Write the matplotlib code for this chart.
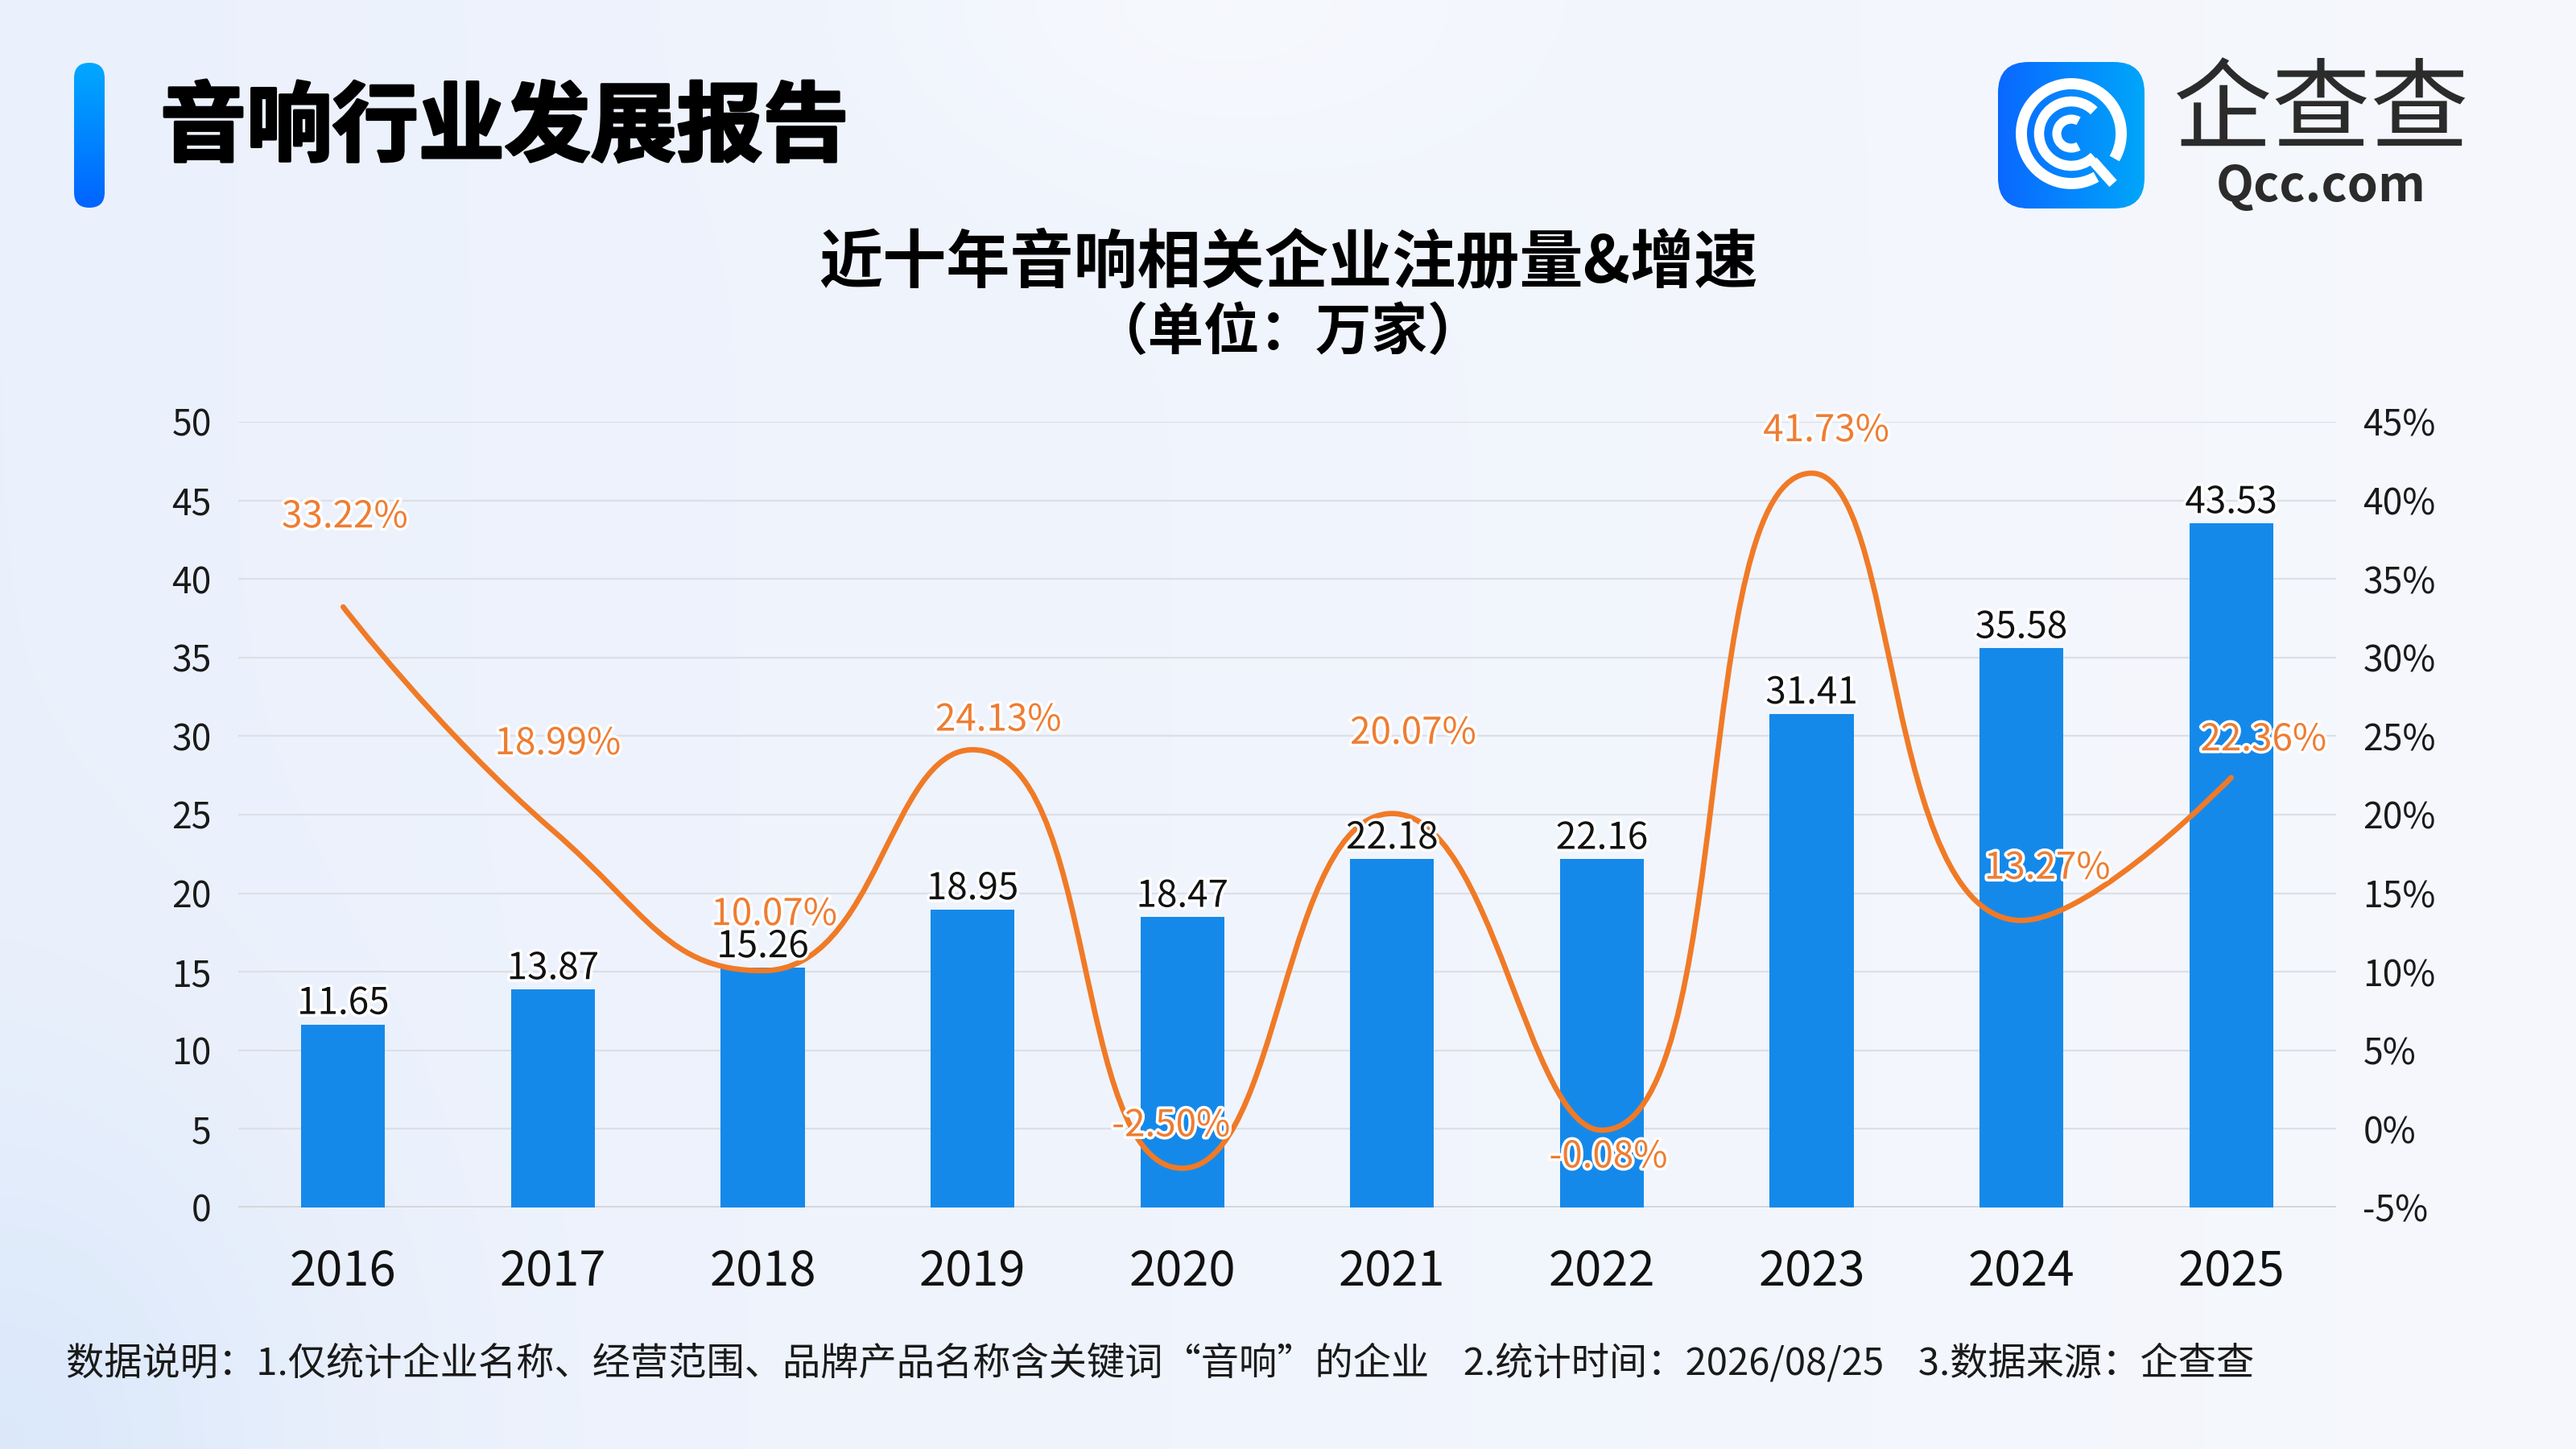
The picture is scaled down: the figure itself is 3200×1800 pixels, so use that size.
import numpy as np
import matplotlib
matplotlib.use("Agg")
import matplotlib.pyplot as plt
from matplotlib.patches import FancyBboxPatch, Arc, PathPatch
from matplotlib.path import Path
import matplotlib.patheffects as pe
from matplotlib.colors import LinearSegmentedColormap

plt.rcParams['font.family'] = ['Noto Sans CJK SC', 'DejaVu Sans']

# ---------------- data ----------------
years = ["2016", "2017", "2018", "2019", "2020", "2021", "2022", "2023", "2024", "2025"]
registrations = [11.65, 13.87, 15.26, 18.95, 18.47, 22.18, 22.16, 31.41, 35.58, 43.53]
growth_pct = [33.22, 18.99, 10.07, 24.13, -2.50, 20.07, -0.08, 41.73, 13.27, 22.36]
left_ticks = [0, 5, 10, 15, 20, 25, 30, 35, 40, 45, 50]
right_ticks = [-5, 0, 5, 10, 15, 20, 25, 30, 35, 40, 45]

title_text = "音响行业发展报告"
chart_title = "近十年音响相关企业注册量&增速"
chart_unit = "（单位：万家）"
footnote = "数据说明：1.仅统计企业名称、经营范围、品牌产品名称含关键词“音响”的企业    2.统计时间：2026/08/25    3.数据来源：企查查"
logo_cn = "企查查"
logo_en = "Qcc.com"

# label layout offsets (pixels) for the growth labels
pct_dx = [2, 6, 14, 32, -14, 26, 8, 18, 32, 40]
pct_dy = [112, 108, 70, 37, 53, 100, -33, 53, 65, 47]

W, H = 3200, 1800
fig = plt.figure(figsize=(32, 18), dpi=100)

# ---------------- background ----------------
axbg = fig.add_axes([0, 0, 1, 1], zorder=-10)
axbg.set_xlim(0, W)
axbg.set_ylim(H, 0)
axbg.axis('off')
gx = np.linspace(0, 1, 320)
gy = np.linspace(0, 1, 180)
GX, GY = np.meshgrid(gx, gy)
left_c = np.array([235, 241, 252]) / 255
right_c = np.array([246, 248, 253]) / 255
img = left_c[None, None, :] * (1 - GX[..., None]) + right_c[None, None, :] * GX[..., None]
blob = np.exp(-(((GX - 0.47) / 0.12) ** 2 + ((GY - 0.0) / 0.12) ** 2))
img = img + (np.array([0.98, 0.985, 1.0]) - img) * blob[..., None] * 0.6
blob2 = np.exp(-(((GX - 0.0) / 0.12) ** 2 + ((GY - 1.0) / 0.25) ** 2))
img = img + (np.array([0.84, 0.9, 0.98]) - img) * blob2[..., None] * 0.7
axbg.imshow(np.clip(img, 0, 1), extent=(0, W, H, 0), aspect='auto', zorder=0, interpolation='bicubic')

# title accent bar (vertical gradient)
bar_patch = FancyBboxPatch((92, 78), 38, 180, boxstyle="round,pad=0,rounding_size=19",
                           transform=axbg.transData, facecolor='none', edgecolor='none')
axbg.add_patch(bar_patch)
grad_v = np.linspace(0, 1, 100)[:, None]
cmap_v = LinearSegmentedColormap.from_list("v", ["#00A8FF", "#0064FF"])
im1 = axbg.imshow(grad_v, extent=(92, 130, 258, 78), cmap=cmap_v, aspect='auto', zorder=2)
im1.set_clip_path(bar_patch)

axbg.text(199, 160, title_text, fontsize=77, fontweight='heavy', color='#000000',
          ha='left', va='center', zorder=3,
          path_effects=[pe.withStroke(linewidth=2.5, foreground='#000000')])

# logo
logo_patch = FancyBboxPatch((2482, 77), 182, 182, boxstyle="round,pad=0,rounding_size=38",
                            transform=axbg.transData, facecolor='none', edgecolor='none')
axbg.add_patch(logo_patch)
grad_h = np.linspace(0, 1, 100)[None, :]
cmap_h = LinearSegmentedColormap.from_list("h", ["#0A68FF", "#00A6FA"])
im2 = axbg.imshow(grad_h, extent=(2482, 2664, 259, 77), cmap=cmap_h, aspect='auto', zorder=2)
im2.set_clip_path(logo_patch)
cx, cy = 2573, 166
axbg.add_patch(Arc((cx, cy), 124, 124, theta1=-300, theta2=30, lw=10, color='white', zorder=3, capstyle='butt'))
axbg.add_patch(Arc((cx, cy), 80, 80, theta1=-315, theta2=-45, lw=9, color='white', zorder=3))
axbg.add_patch(Arc((cx, cy), 36, 36, theta1=-300, theta2=-60, lw=8, color='white', zorder=3))
axbg.plot([2600, 2625], [200, 228], color='white', lw=9, solid_capstyle='butt', zorder=3)
axbg.text(2883, 141, logo_cn, fontsize=88, color='#2B2B2B', ha='center', va='center', zorder=3)
axbg.text(2883, 232, logo_en, fontsize=44, color='#2B2B2B', ha='center', va='center',
          zorder=3, fontweight='bold')

# chart titles
axbg.text(1600, 327, chart_title, fontsize=57, fontweight='bold', color='#000000',
          ha='center', va='center', zorder=3)
axbg.text(1600, 414, chart_unit, fontsize=50, fontweight='bold', color='#000000',
          ha='center', va='center', zorder=3)

# footnote
axbg.text(82, 1694, footnote, fontsize=34, color='#1A1A1A', ha='left', va='center', zorder=3)

# ---------------- main chart ----------------
L, R, T, B = 296, 2902, 524, 1500
pos = [L / W, 1 - B / H, (R - L) / W, (B - T) / H]
ax = fig.add_axes(pos)
ax.patch.set_alpha(0)
x = np.arange(len(years))
ax.set_xlim(-0.5, len(years) - 0.5)
ax.set_ylim(0, 50)
ax.set_yticks(left_ticks)
ax.set_yticklabels([str(t) for t in left_ticks])
ax.set_xticks(x)
ax.set_xticklabels(years)
for s in ax.spines.values():
    s.set_visible(False)
ax.tick_params(axis='both', length=0)
ax.tick_params(axis='y', labelsize=32, pad=24, labelcolor='#1A1A1A')
ax.tick_params(axis='x', labelsize=43, pad=36, labelcolor='#111111')
ax.set_axisbelow(True)
ax.yaxis.grid(True, color='#DCDFE5', lw=1.6)
ax.axhline(0, color='#D5D6DA', lw=3.5, zorder=1)

bars = ax.bar(x, registrations, width=0.4, color='#1589EA', zorder=2)

ax2 = ax.twinx()
ax2.set_ylim(-5, 45)
ax2.set_yticks(right_ticks)
ax2.set_yticklabels([f"{t}%" for t in right_ticks])
for s in ax2.spines.values():
    s.set_visible(False)
ax2.tick_params(axis='y', length=0, labelsize=32, pad=24, labelcolor='#1A1A1A')

# smooth line (ECharts-style bezier smoothing) computed in display space
pts = ax2.transData.transform(np.column_stack([x, growth_pct]))
smooth = 0.5
n = len(pts)
verts = [tuple(pts[0])]
codes = [Path.MOVETO]
cp0 = pts[0].copy()
for i in range(1, n):
    px_, py_ = pts[i - 1]
    xx, yy = pts[i]
    if i == n - 1:
        cp1 = np.array([xx, yy])
        ncp0 = None
    else:
        nx_, ny_ = pts[i + 1]
        vx, vy = nx_ - px_, ny_ - py_
        lp = np.hypot(xx - px_, yy - py_)
        ln = np.hypot(nx_ - xx, ny_ - yy)
        ratio = ln / (ln + lp)
        ncx = xx + vx * smooth * ratio
        ncy = yy + vy * smooth * ratio
        ncx = min(ncx, max(nx_, xx)); ncy = min(ncy, max(ny_, yy))
        ncx = max(ncx, min(nx_, xx)); ncy = max(ncy, min(ny_, yy))
        vx, vy = ncx - xx, ncy - yy
        c1x = xx - vx * lp / ln
        c1y = yy - vy * lp / ln
        c1x = min(c1x, max(px_, xx)); c1y = min(c1y, max(py_, yy))
        c1x = max(c1x, min(px_, xx)); c1y = max(c1y, min(py_, yy))
        vx, vy = xx - c1x, yy - c1y
        ncp0 = np.array([xx + vx * ln / lp, yy + vy * ln / lp])
        cp1 = np.array([c1x, c1y])
    verts += [tuple(cp0), tuple(cp1), (xx, yy)]
    codes += [Path.CURVE4] * 3
    if ncp0 is not None:
        cp0 = ncp0
verts_data = ax2.transData.inverted().transform(np.array(verts))
line_path = Path(verts_data, codes)
ax2.add_patch(PathPatch(line_path, facecolor='none', edgecolor='#F07A26', lw=4.8,
                        capstyle='round', joinstyle='round', zorder=3))

outline_w = [pe.withStroke(linewidth=5, foreground='white')]
for xi, v in zip(x, registrations):
    ax2.annotate(f"{v:.2f}", xy=(xi, v), xycoords=ax.transData, xytext=(0, 2),
                 textcoords='offset pixels', ha='center', va='bottom', fontsize=33,
                 color='#111111', path_effects=outline_w, zorder=6)
for xi, v, dx, dy in zip(x, growth_pct, pct_dx, pct_dy):
    ax2.annotate(f"{v:.2f}%", xy=(xi, v), xycoords='data', xytext=(dx, dy),
                 textcoords='offset pixels', ha='center', va='center', fontsize=33,
                 color='#EE7D33', path_effects=outline_w, zorder=7)

fig.savefig("out.png", dpi=100)
